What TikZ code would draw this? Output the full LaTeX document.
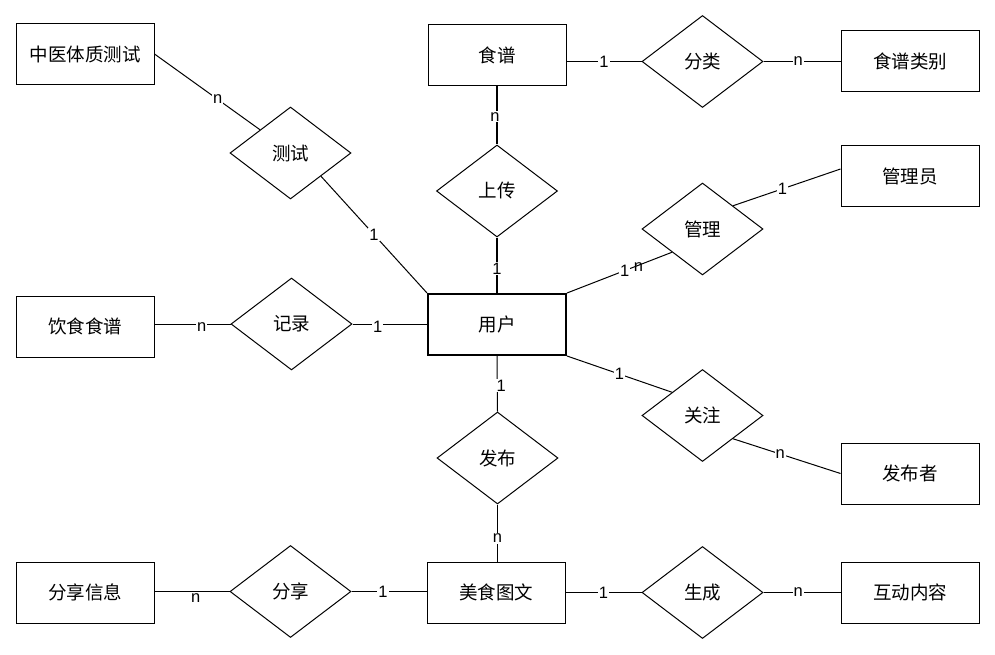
\documentclass[tikz,border=0pt]{standalone}
\usepackage{fontspec}
\setmainfont{Liberation Sans}
\newfontfamily\cjk{Noto Sans CJK SC}
\usetikzlibrary{shapes.geometric,calc}
\tikzset{
  ent/.style={draw, line width=1pt, minimum width=138pt, minimum height=61pt, inner sep=0pt, font=\cjk\fontsize{18.5}{21}\selectfont},
  rel/.style={draw, diamond, line width=1pt, minimum width=121pt, minimum height=92pt, inner sep=0pt, font=\cjk\fontsize{18.5}{21}\selectfont},
  conn/.style={line width=1pt},
  thickconn/.style={line width=2pt},
  lbl/.style={fill=white, inner sep=1pt, font=\fontsize{16.5}{18}\selectfont}
}
\begin{document}
\begin{tikzpicture}[x=1pt,y=-1pt]
\useasboundingbox (0,0) rectangle (995,655);
% entities
\node[ent] (zy) at (85,54) {中医体质测试};
\node[ent] (sp) at (497,55.5) {食谱};
\node[ent] (splb) at (910,61.5) {食谱类别};
\node[ent] (gly) at (910,176) {管理员};
\node[ent] (ysp) at (85,326.5) {饮食食谱};
\node[ent, line width=2pt] (user) at (497,324.5) {用户};
\node[ent] (fbz) at (910,473.5) {发布者};
\node[ent] (fxxx) at (85,592.5) {分享信息};
\node[ent] (mstw) at (496,592.5) {美食图文};
\node[ent] (hdnr) at (910,592.5) {互动内容};
% relationships
\node[rel] (cs) at (290.5,153) {测试};
\node[rel] (sc) at (497,191) {上传};
\node[rel] (fl) at (702.5,61.5) {分类};
\node[rel] (gl) at (702.5,229) {管理};
\node[rel] (jl) at (291.5,324) {记录};
\node[rel] (fb) at (497.5,458) {发布};
\node[rel] (gz) at (702.5,415.5) {关注};
\node[rel] (fx) at (290.5,591.5) {分享};
\node[rel] (scg) at (702.5,592.5) {生成};
% connectors
\draw[conn] (zy.east) -- node[lbl,pos=0.6]{n} (cs.north west);
\draw[conn] (cs.south east) -- node[lbl,pos=0.5]{1} (user.north west);
\draw[thickconn] (sp.south) -- node[lbl,pos=0.52,xshift=-2pt]{n} (sc.north);
\draw[thickconn] (sc.south) -- node[lbl,pos=0.56]{1} (user.north);
\draw[conn] (fl.west -| sp.east) -- node[lbl,pos=0.5]{1} (fl.west);
\draw[conn] (fl.east) -- node[lbl,pos=0.45]{n} (fl.east -| splb.west);
\draw[conn] ($(gly.west)+(0,-7)$) -- node[lbl,pos=0.54]{1} (gl.north east);
\draw[conn] (user.north east) -- node[lbl,pos=0.55]{1} node[pos=0.68, font=\fontsize{16.5}{18}\selectfont, below=-4pt, inner sep=1pt]{n} (gl.south west);
\draw[conn] (ysp.east |- jl.west) -- node[lbl,pos=0.62,yshift=-3pt]{n} (jl.west);
\draw[conn] (jl.east) -- node[lbl,pos=0.34,yshift=-3pt]{1} (jl.east -| user.west);
\draw[conn] (user.south) -- node[lbl,pos=0.53,xshift=4pt]{1} (fb.north);
\draw[conn] (fb.south) -- node[lbl,pos=0.59]{n} (fb.south |- mstw.north);
\draw[conn] (user.south east) -- node[lbl,pos=0.5]{1} (gz.north west);
\draw[conn] (gz.south east) -- node[lbl,pos=0.44]{n} (fbz.west);
\draw[conn] (fxxx.east |- fx.west) -- node[lbl,pos=0.55,yshift=-7pt]{n} (fx.west);
\draw[conn] (fx.east) -- node[lbl,pos=0.42]{1} (fx.east -| mstw.west);
\draw[conn] (mstw.east |- scg.west) -- node[lbl,pos=0.5]{1} (scg.west);
\draw[conn] (scg.east) -- node[lbl,pos=0.45]{n} (scg.east -| hdnr.west);
\end{tikzpicture}
\end{document}
